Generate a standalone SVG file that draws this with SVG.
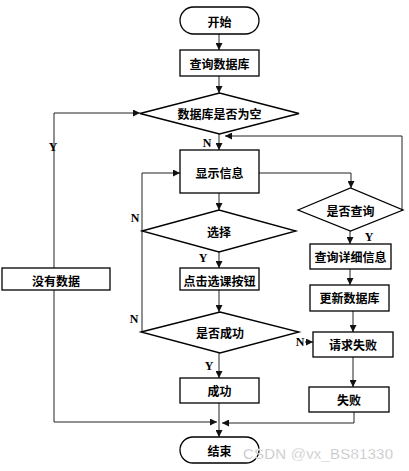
<svg xmlns="http://www.w3.org/2000/svg" width="409" height="471" viewBox="0 0 409 471">
<defs>
<style>
.n{fill:#fff;stroke:#000;stroke-width:1.3}
.t{font-family:"Noto Sans CJK SC",sans-serif;font-size:12px;font-weight:bold;fill:#000;text-anchor:middle;dominant-baseline:central}
.l{font-family:"Liberation Serif",serif;font-size:12px;font-weight:bold;fill:#000;text-anchor:middle;dominant-baseline:central}
.c{fill:none;stroke:#222;stroke-width:1;marker-end:url(#a)}
.w{font-family:"Liberation Sans",sans-serif;font-size:15px;fill:#b4b4b4;stroke:#fff;stroke-width:0.4}
</style>
<marker id="a" viewBox="0 0 8 8" refX="8" refY="4" markerWidth="7" markerHeight="7" markerUnits="userSpaceOnUse" orient="auto">
<path d="M0,0 L8,4 L0,8 z" fill="#111"/>
</marker>
</defs>
<rect width="409" height="471" fill="#fff"/>
<g id="connectors">
<path class="c" d="M219,34 V50"/>
<path class="c" d="M219,76 V93"/>
<path class="c" d="M219,134 V150"/>
<path class="c" d="M54,268 V113 H140"/>
<path class="c" d="M54,290 V422 H217"/>
<path class="c" d="M259,173 H351 V188"/>
<path class="c" d="M402,210 V136 H225"/>
<path class="c" d="M350,231 V244"/>
<path class="c" d="M350,269 V285"/>
<path class="c" d="M353,311 V332"/>
<path class="c" d="M353,357 V387"/>
<path class="c" d="M354,412 V423 H222"/>
<path class="c" d="M219,193 V210"/>
<path class="c" d="M219,252 V268"/>
<path class="c" d="M219,290 V312"/>
<path class="c" d="M142,332 V173 H180"/>
<path class="c" d="M305,342 H313"/>
<path class="c" d="M219,353 V378"/>
<path class="c" d="M219,403 V437"/>
</g>
<g id="labels">
<text class="l" x="53" y="147">Y</text>
<text class="l" x="207" y="143">N</text>
<text class="l" x="135" y="218">N</text>
<text class="l" x="134" y="319">N</text>
<text class="l" x="203" y="258">Y</text>
<text class="l" x="369" y="237">Y</text>
<text class="l" x="300" y="342">N</text>
<text class="l" x="209" y="366">Y</text>
</g>
<g id="start"><rect class="n" x="180" y="7" width="79" height="27" rx="13.5"/><text class="t" x="219.5" y="21">开始</text></g>
<g id="query-db"><rect class="n" x="180" y="50" width="79" height="26"/><text class="t" x="219.5" y="63">查询数据库</text></g>
<g id="db-empty"><polygon class="n" points="140,113.5 219.5,93 299,113.5 219.5,134"/><text class="t" x="219.5" y="113.5">数据库是否为空</text></g>
<g id="no-data"><rect class="n" x="2" y="268" width="108" height="22"/><text class="t" x="56" y="280">没有数据</text></g>
<g id="show-info"><rect class="n" x="180" y="150" width="79" height="43"/><text class="t" x="219.5" y="172">显示信息</text></g>
<g id="choose"><polygon class="n" points="142,231 219,210 296,231 219,252"/><text class="t" x="219" y="231">选择</text></g>
<g id="click-btn"><rect class="n" x="180" y="268" width="79" height="22"/><text class="t" x="219.5" y="280">点击选课按钮</text></g>
<g id="is-success"><polygon class="n" points="141,332 220,312 299,332 220,353"/><text class="t" x="220" y="332">是否成功</text></g>
<g id="success"><rect class="n" x="180" y="378" width="79" height="25"/><text class="t" x="219.5" y="390">成功</text></g>
<g id="end"><rect class="n" x="180" y="437" width="79" height="26" rx="13"/><text class="t" x="219.5" y="450">结束</text></g>
<g id="is-query"><polygon class="n" points="298,210 350.5,188 403,210 350.5,231"/><text class="t" x="350.5" y="210">是否查询</text></g>
<g id="query-detail"><rect class="n" x="310" y="244" width="81" height="25"/><text class="t" x="350.5" y="256.5">查询详细信息</text></g>
<g id="update-db"><rect class="n" x="310" y="285" width="79" height="26"/><text class="t" x="349.5" y="297.5">更新数据库</text></g>
<g id="request-fail"><rect class="n" x="313" y="332" width="80" height="25"/><text class="t" x="353" y="344.5">请求失败</text></g>
<g id="fail"><rect class="n" x="309" y="387" width="80" height="25"/><text class="t" x="349" y="399">失败</text></g>
<text class="w" x="243" y="459" textLength="150">CSDN @vx_BS81330</text>
</svg>
